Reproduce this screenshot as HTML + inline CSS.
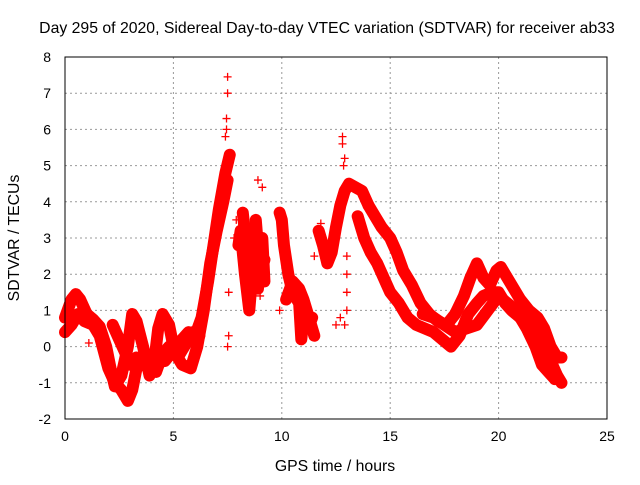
<!DOCTYPE html>
<html><head><meta charset="utf-8"><style>
body{margin:0;background:#fff}
svg text{font-family:"Liberation Sans",sans-serif;font-size:14px;fill:#000}
svg text.big{font-size:15.8px}
</style></head><body>
<svg id="chart" width="640" height="480">
<text class="big" x="327" y="33" text-anchor="middle">Day 295 of 2020, Sidereal Day-to-day VTEC variation (SDTVAR) for receiver ab33</text>
<text class="big" x="335" y="471" text-anchor="middle">GPS time / hours</text>
<text class="big" transform="translate(19,238) rotate(-90)" text-anchor="middle">SDTVAR / TECUs</text>
<g id="grid"></g><g id="series"></g>
<rect x="65" y="57" width="542" height="362" fill="none" stroke="#000"/>
</svg>
<script>
const xTicks=[0,5,10,15,20,25];
const yTicks=[-2,-1,0,1,2,3,4,5,6,7,8];
const trackA=[[0,0.8],[0.3,1.3],[0.5,1.45],[0.7,1.3],[1.0,0.9],[1.3,0.75],[1.6,0.55],[1.9,0.0],[2.1,-0.6],[2.3,-1.1],[2.6,-0.8],[2.9,0.0],[3.1,0.9],[3.3,0.7],[3.6,0.0],[3.9,-0.8],[4.1,-0.5],[4.3,0.5],[4.5,0.9],[4.8,0.6],[5.0,0.0],[5.3,-0.2],[5.6,0.1],[5.9,0.4],[6.2,0.3]];
const trackB=[[0,0.4],[0.3,0.6],[0.6,0.9],[0.9,0.7],[1.3,0.6],[1.6,0.3],[2.0,-0.6],[2.3,-1.0],[2.6,-1.2],[2.9,-1.5],[3.1,-1.2],[3.3,-0.6],[3.6,-0.3],[3.9,-0.3],[4.2,-0.7],[4.5,-0.2],[4.8,0.0],[5.1,0.0],[5.4,0.2],[5.7,0.4],[6.0,0.3],[6.3,0.8],[6.6,1.8],[6.9,3.0],[7.1,3.8],[7.4,4.8],[7.6,5.3]];
const trackC=[[2.2,0.6],[2.5,0.2],[2.8,-0.2],[3.0,-0.5],[3.3,-0.3],[3.6,-0.5],[3.9,-0.6],[4.2,-0.2],[4.6,-0.4],[5.0,-0.1],[5.4,-0.5],[5.8,-0.6],[6.1,0.0],[6.4,1.0],[6.7,2.3],[7.0,3.2],[7.3,4.0],[7.5,4.6]];
const trackD=[[8.0,2.8],[8.1,3.2],[8.3,2.0],[8.5,1.0],[8.7,2.5],[8.8,3.5],[9.0,2.0],[9.2,2.4]];
const trackD2=[[8.2,3.7],[8.4,2.6],[8.6,1.6],[8.9,1.6],[9.1,3.0],[9.2,1.8]];
const trackE=[[9.9,3.7],[10.0,3.5],[10.1,2.8],[10.3,2.0],[10.5,1.5],[10.8,1.2],[10.9,0.2],[11.0,0.8],[11.2,0.5],[11.4,0.8]];
const trackE2=[[10.2,1.3],[10.5,1.8],[10.8,1.6],[11.0,1.3],[11.3,0.7],[11.5,0.3]];
const trackF=[[11.7,3.2],[11.9,2.8],[12.1,2.3],[12.3,2.6],[12.5,3.3],[12.7,3.9],[12.9,4.3],[13.1,4.5],[13.4,4.4],[13.7,4.3],[14.0,3.9]];
const trackG=[[14.0,3.9],[14.3,3.6],[14.6,3.3],[15.0,3.0],[15.3,2.6],[15.6,2.1],[16.0,1.7],[16.4,1.2],[16.8,0.9],[17.2,0.7],[17.6,0.6],[18.0,0.9],[18.4,1.4],[18.7,1.9],[19.0,2.3],[19.3,1.9],[19.6,1.7],[19.9,2.1],[20.1,2.2],[20.4,1.9],[20.7,1.6],[21.0,1.3],[21.4,1.0],[21.8,0.8],[22.1,0.5],[22.4,0.0],[22.7,-0.3],[22.9,-0.3]];
const trackH=[[13.5,3.6],[13.8,3.0],[14.1,2.6],[14.4,2.3],[14.7,1.9],[15.0,1.5],[15.4,1.2],[15.8,0.8],[16.2,0.6],[16.6,0.5],[17.0,0.4],[17.4,0.2],[17.8,0.0],[18.2,0.3],[18.6,0.9],[19.0,1.2],[19.3,1.4],[19.7,1.5],[20.0,1.5],[20.3,1.2],[20.6,1.0],[21.0,0.8],[21.4,0.6],[21.8,0.3],[22.1,0.0],[22.4,-0.4],[22.7,-0.8],[22.9,-1.0]];
const trackI=[[16.5,0.9],[17.0,0.8],[17.5,0.6],[18.0,0.4],[18.5,0.5],[19.0,0.6],[19.5,1.0],[20.0,1.4],[20.4,1.2],[20.8,1.0],[21.3,0.5],[21.7,0.0],[22.0,-0.5],[22.3,-0.7],[22.6,-0.9]];
const outliers=[[7.5,7.45],[7.5,7.0],[7.45,6.3],[7.45,6.0],[7.4,5.8],[7.55,1.5],[7.55,0.3],[7.5,0.0],[12.8,5.8],[12.8,5.6],[12.9,5.2],[12.85,5.0],[12.5,0.6],[12.7,0.8],[12.9,0.6],[13.0,1.0],[13.0,1.5],[13.0,2.0],[13.0,2.5],[11.8,3.4],[11.5,2.5],[11.9,2.6],[8.9,4.6],[9.1,4.4],[7.9,3.5],[7.8,3.0],[9.9,1.0],[1.1,0.1],[8.4,1.3],[8.6,1.6],[9.0,1.4]];
const tracks=[trackA,trackB,trackC,trackD,trackD2,trackE,trackE2,trackF,trackG,trackH,trackI];
const NS='http://www.w3.org/2000/svg';
const X=h=>65+h*542/25, Y=v=>419-(v+2)*362/10;
const grid=document.getElementById('grid'), ser=document.getElementById('series');
function mk(t,a,p){const e=document.createElementNS(NS,t);for(const k in a)e.setAttribute(k,a[k]);p.appendChild(e);return e;}
xTicks.forEach(t=>{
 const l=mk('line',{x1:X(t),x2:X(t),y1:57,y2:419,stroke:'#999','stroke-dasharray':'2,3'},grid);
 
 
 const tx=mk('text',{x:X(t),y:441,'text-anchor':'middle'},grid);tx.textContent=t;
 
 
});
yTicks.forEach(t=>{
 const l=mk('line',{x1:65,x2:607,y1:Y(t),y2:Y(t),stroke:'#999','stroke-dasharray':'2,3'},grid);
 
 
 const tx=mk('text',{x:51,y:Y(t)+5,'text-anchor':'end'},grid);tx.textContent=t;
 
 
});
function plus(h,v){
 const p=mk('path',{d:`M${X(h)-4},${Y(v)}h8M${X(h)},${Y(v)-4}v8`,stroke:'#f00','stroke-width':1.3},ser);
 
 
}
tracks.forEach(tr=>{
 const pl=mk('polyline',{points:tr.map(p=>X(p[0])+','+Y(p[1])).join(' '),fill:'none',stroke:'#f00','stroke-width':12,'stroke-linejoin':'round','stroke-linecap':'round'},ser);
 
 
 tr.forEach(p=>plus(p[0],p[1]));
});
outliers.forEach(p=>plus(p[0],p[1]));
</script>
</body></html>
